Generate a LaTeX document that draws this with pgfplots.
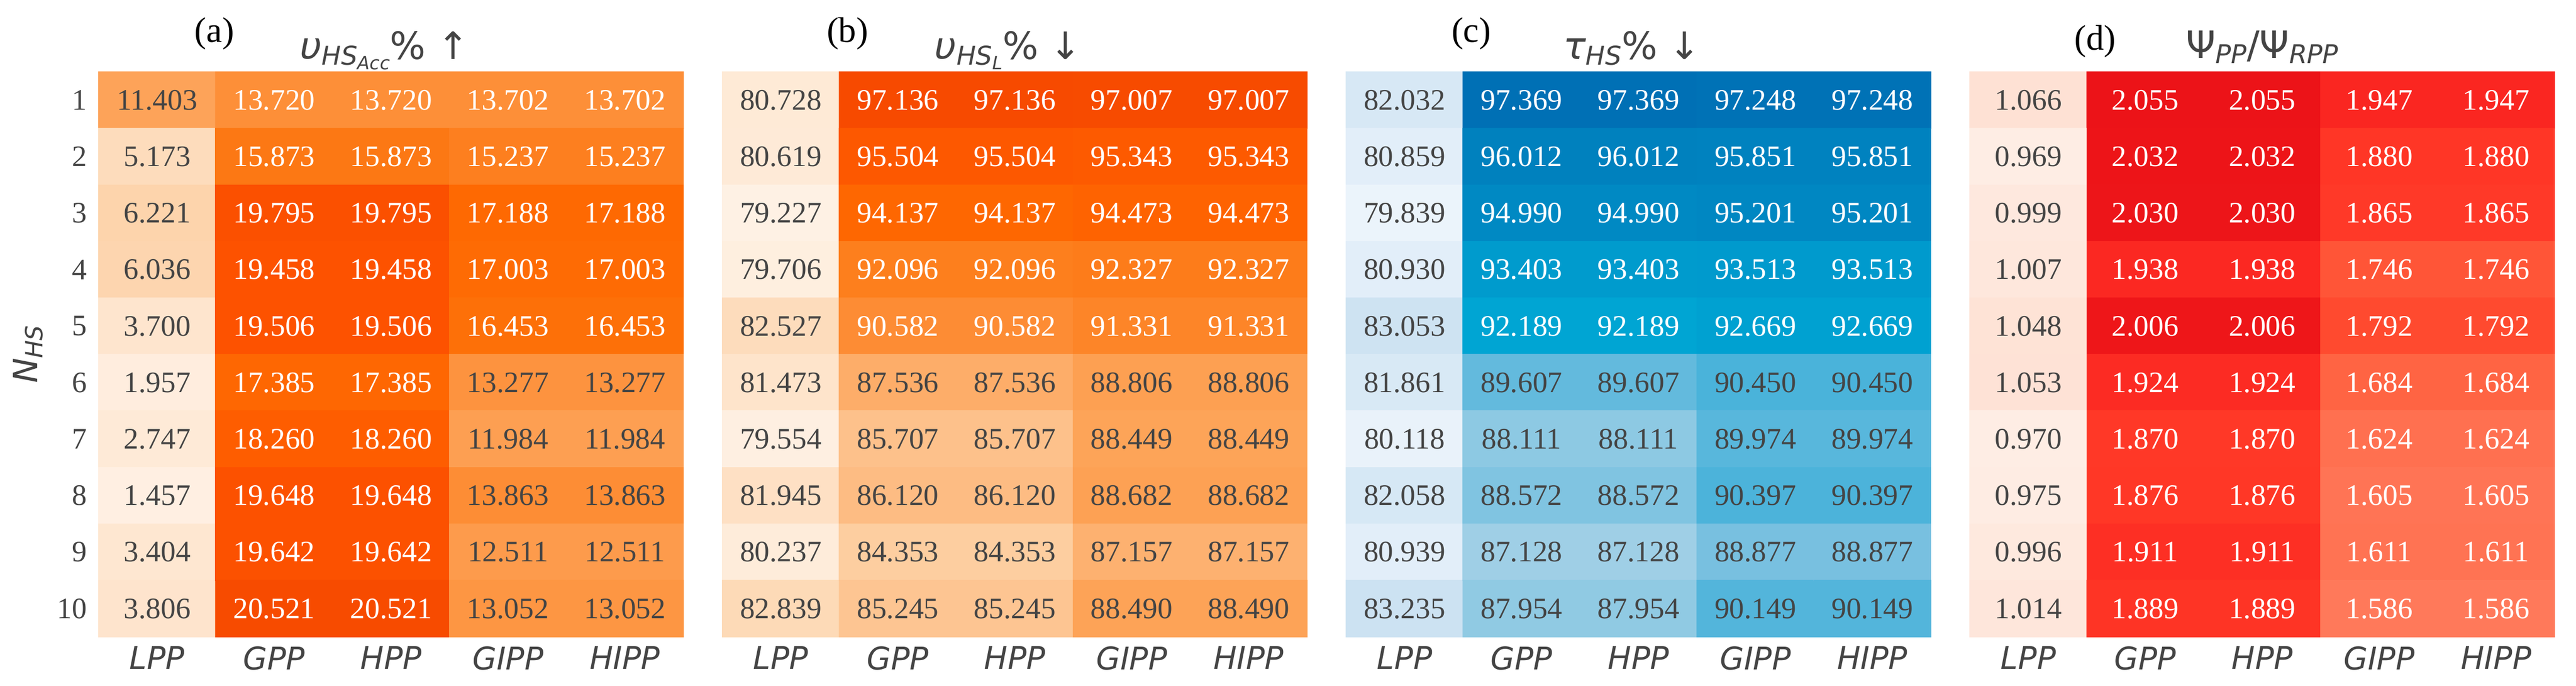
\documentclass[border=0pt]{standalone}
\usepackage{fontspec}
\setmainfont{Liberation Serif}
\newfontfamily\dv{DejaVu Sans}
\usepackage{pgfplots}
\pgfplotsset{compat=1.18}

\definecolor{cd}{HTML}{444444}
\definecolor{cw}{rgb}{1,1,1}

% subscripts in the titles (mathtext look)
\newcommand{\subA}[1]{\raisebox{-2.6pt}{\fontsize{12}{12}\selectfont #1}}
\newcommand{\subB}[1]{\raisebox{-2pt}{\fontsize{8.5}{8.5}\selectfont #1}}
\newcommand{\ttl}{\fontsize{17.5}{17.5}\selectfont\dv\color{cd}}

\pgfplotsset{
  hm/.style={
    anchor=north west, scale only axis, width=271.56pt, height=262.08pt,
    xmin=-0.5, xmax=4.5, ymin=-0.5, ymax=9.5, y dir=reverse, clip=false,
    axis line style={draw=none}, tick style={draw=none},
    xtick={0,...,4}, xticklabels={LPP,GPP,HPP,GIPP,HIPP},
    xticklabel style={font=\fontsize{14.5}{14.5}\selectfont\dv\itshape, text=cd, yshift=-1pt},
    ytick=\empty,
  },
  cells/.style={
    matrix plot*, mesh/cols=5, point meta=explicit,
    visualization depends on={value \thisrow{c}\as\tc},
    nodes near coords={\color{\tc}\pgfmathprintnumber[fixed,fixed zerofill,precision=3,assume math mode=true]{\pgfplotspointmeta}},
    nodes near coords align=center,
    every node near coord/.append style={font=\fontsize{13.8}{13.8}\selectfont, anchor=center},
  },
}

\begin{document}
\begin{tikzpicture}
\path[use as bounding box] (0,0) rectangle (1196.4pt,318.24pt);

% (a)
\begin{axis}[hm, at={(45.84pt,284.88pt)},
  colormap={ca}{rgb255(1.457pt)=(255,239,226); rgb255(2.747pt)=(254,234,215); rgb255(3.7pt)=(254,229,206);
    rgb255(5.173pt)=(253,220,188); rgb255(6.221pt)=(253,212,172); rgb255(11.403pt)=(253,163,89);
    rgb255(12.511pt)=(253,155,76); rgb255(13.7pt)=(253,143,56); rgb255(15.237pt)=(253,127,31);
    rgb255(15.873pt)=(252,120,20); rgb255(16.453pt)=(253,112,8); rgb255(17.2pt)=(254,105,2);
    rgb255(18.26pt)=(254,93,0); rgb255(19.5pt)=(253,82,0); rgb255(20.521pt)=(247,75,0)},
  point meta min=1.457, point meta max=20.521,
  ytick={0,...,9}, yticklabels={1,2,3,4,5,6,7,8,9,10},
  yticklabel style={font=\fontsize{13.8}{13.8}\selectfont, text=cd, xshift=-2pt}]
\addplot[cells] table[meta=v] {
x y v c
0 0 11.403 cd
1 0 13.720 cw
2 0 13.720 cw
3 0 13.702 cw
4 0 13.702 cw
0 1 5.173 cd
1 1 15.873 cw
2 1 15.873 cw
3 1 15.237 cw
4 1 15.237 cw
0 2 6.221 cd
1 2 19.795 cw
2 2 19.795 cw
3 2 17.188 cw
4 2 17.188 cw
0 3 6.036 cd
1 3 19.458 cw
2 3 19.458 cw
3 3 17.003 cw
4 3 17.003 cw
0 4 3.700 cd
1 4 19.506 cw
2 4 19.506 cw
3 4 16.453 cw
4 4 16.453 cw
0 5 1.957 cd
1 5 17.385 cw
2 5 17.385 cw
3 5 13.277 cd
4 5 13.277 cd
0 6 2.747 cd
1 6 18.260 cw
2 6 18.260 cw
3 6 11.984 cd
4 6 11.984 cd
0 7 1.457 cd
1 7 19.648 cw
2 7 19.648 cw
3 7 13.863 cd
4 7 13.863 cd
0 8 3.404 cd
1 8 19.642 cw
2 8 19.642 cw
3 8 12.511 cd
4 8 12.511 cd
0 9 3.806 cd
1 9 20.521 cw
2 9 20.521 cw
3 9 13.052 cd
4 9 13.052 cd
};
\node[font=\fontsize{16.5}{16.5}\selectfont] at (axis description cs:0.198,1.0678) {(a)};
\node[anchor=base] at (axis description cs:0.4885,1.022)
  {\ttl\itshape υ\subA{HS\subB{Acc}}\upshape\%\hspace{0.3em}↑};
\node[rotate=90, text=cd] at (axis description cs:-0.1211,0.5)
  {\fontsize{15.5}{15.5}\selectfont\dv\itshape N\raisebox{-2.4pt}{\fontsize{11}{11}\selectfont HS}};
\end{axis}

% (b)
\begin{axis}[hm, at={(335.52pt,284.88pt)},
  colormap={cb}{rgb255(79.227pt)=(254,241,228); rgb255(80.237pt)=(254,236,218); rgb255(80.7pt)=(254,234,214);
    rgb255(81.473pt)=(254,228,203); rgb255(82.527pt)=(253,220,188); rgb255(84.353pt)=(253,206,160);
    rgb255(85.707pt)=(253,193,139); rgb255(87.157pt)=(253,177,112); rgb255(88.6pt)=(253,162,85);
    rgb255(90.582pt)=(253,140,52); rgb255(91.331pt)=(253,133,40); rgb255(92.2pt)=(253,126,28);
    rgb255(94.137pt)=(254,103,1); rgb255(95.4pt)=(253,89,0); rgb255(97.136pt)=(247,74,0)},
  point meta min=79.227, point meta max=97.136]
\addplot[cells] table[meta=v] {
x y v c
0 0 80.728 cd
1 0 97.136 cw
2 0 97.136 cw
3 0 97.007 cw
4 0 97.007 cw
0 1 80.619 cd
1 1 95.504 cw
2 1 95.504 cw
3 1 95.343 cw
4 1 95.343 cw
0 2 79.227 cd
1 2 94.137 cw
2 2 94.137 cw
3 2 94.473 cw
4 2 94.473 cw
0 3 79.706 cd
1 3 92.096 cw
2 3 92.096 cw
3 3 92.327 cw
4 3 92.327 cw
0 4 82.527 cd
1 4 90.582 cw
2 4 90.582 cw
3 4 91.331 cw
4 4 91.331 cw
0 5 81.473 cd
1 5 87.536 cd
2 5 87.536 cd
3 5 88.806 cd
4 5 88.806 cd
0 6 79.554 cd
1 6 85.707 cd
2 6 85.707 cd
3 6 88.449 cd
4 6 88.449 cd
0 7 81.945 cd
1 7 86.120 cd
2 7 86.120 cd
3 7 88.682 cd
4 7 88.682 cd
0 8 80.237 cd
1 8 84.353 cd
2 8 84.353 cd
3 8 87.157 cd
4 8 87.157 cd
0 9 82.839 cd
1 9 85.245 cd
2 9 85.245 cd
3 9 88.490 cd
4 9 88.490 cd
};
\node[font=\fontsize{16.5}{16.5}\selectfont] at (axis description cs:0.214,1.0678) {(b)};
\node[anchor=base] at (axis description cs:0.4885,1.022)
  {\ttl\itshape υ\subA{HS\subB{L}}\upshape\%\hspace{0.3em}↓};
\end{axis}

% (c)
\begin{axis}[hm, at={(625.2pt,284.88pt)},
  colormap={cc}{rgb255(79.839pt)=(235,244,251); rgb255(80.9pt)=(226,238,249); rgb255(82pt)=(215,232,245);
    rgb255(83.235pt)=(204,226,242); rgb255(87.128pt)=(159,207,230); rgb255(88.111pt)=(141,201,227);
    rgb255(88.877pt)=(120,192,224); rgb255(89.607pt)=(99,186,221); rgb255(90.45pt)=(74,179,218);
    rgb255(92.189pt)=(0,165,211); rgb255(93.45pt)=(0,155,205); rgb255(95.1pt)=(0,136,194);
    rgb255(96.012pt)=(0,129,190); rgb255(97.369pt)=(0,112,181)},
  point meta min=79.839, point meta max=97.369]
\addplot[cells] table[meta=v] {
x y v c
0 0 82.032 cd
1 0 97.369 cw
2 0 97.369 cw
3 0 97.248 cw
4 0 97.248 cw
0 1 80.859 cd
1 1 96.012 cw
2 1 96.012 cw
3 1 95.851 cw
4 1 95.851 cw
0 2 79.839 cd
1 2 94.990 cw
2 2 94.990 cw
3 2 95.201 cw
4 2 95.201 cw
0 3 80.930 cd
1 3 93.403 cw
2 3 93.403 cw
3 3 93.513 cw
4 3 93.513 cw
0 4 83.053 cd
1 4 92.189 cw
2 4 92.189 cw
3 4 92.669 cw
4 4 92.669 cw
0 5 81.861 cd
1 5 89.607 cd
2 5 89.607 cd
3 5 90.450 cd
4 5 90.450 cd
0 6 80.118 cd
1 6 88.111 cd
2 6 88.111 cd
3 6 89.974 cd
4 6 89.974 cd
0 7 82.058 cd
1 7 88.572 cd
2 7 88.572 cd
3 7 90.397 cd
4 7 90.397 cd
0 8 80.939 cd
1 8 87.128 cd
2 8 87.128 cd
3 8 88.877 cd
4 8 88.877 cd
0 9 83.235 cd
1 9 87.954 cd
2 9 87.954 cd
3 9 90.149 cd
4 9 90.149 cd
};
\node[font=\fontsize{16.5}{16.5}\selectfont] at (axis description cs:0.214,1.0678) {(c)};
\node[anchor=base] at (axis description cs:0.4885,1.022)
  {\ttl\itshape τ\subA{HS}\upshape\%\hspace{0.3em}↓};
\end{axis}

% (d)
\begin{axis}[hm, at={(914.88pt,284.88pt)},
  colormap={cdm}{rgb255(0.969pt)=(254,237,228); rgb255(1.007pt)=(254,231,220); rgb255(1.066pt)=(254,225,212);
    rgb255(1.586pt)=(255,121,90); rgb255(1.624pt)=(255,112,80); rgb255(1.684pt)=(255,100,67);
    rgb255(1.746pt)=(255,85,55); rgb255(1.792pt)=(255,74,47); rgb255(1.88pt)=(255,54,38);
    rgb255(1.947pt)=(250,38,33); rgb255(2.006pt)=(238,22,25); rgb255(2.055pt)=(236,19,24)},
  point meta min=0.969, point meta max=2.055]
\addplot[cells] table[meta=v] {
x y v c
0 0 1.066 cd
1 0 2.055 cw
2 0 2.055 cw
3 0 1.947 cw
4 0 1.947 cw
0 1 0.969 cd
1 1 2.032 cw
2 1 2.032 cw
3 1 1.880 cw
4 1 1.880 cw
0 2 0.999 cd
1 2 2.030 cw
2 2 2.030 cw
3 2 1.865 cw
4 2 1.865 cw
0 3 1.007 cd
1 3 1.938 cw
2 3 1.938 cw
3 3 1.746 cw
4 3 1.746 cw
0 4 1.048 cd
1 4 2.006 cw
2 4 2.006 cw
3 4 1.792 cw
4 4 1.792 cw
0 5 1.053 cd
1 5 1.924 cw
2 5 1.924 cw
3 5 1.684 cw
4 5 1.684 cw
0 6 0.970 cd
1 6 1.870 cw
2 6 1.870 cw
3 6 1.624 cw
4 6 1.624 cw
0 7 0.975 cd
1 7 1.876 cw
2 7 1.876 cw
3 7 1.605 cw
4 7 1.605 cw
0 8 0.996 cd
1 8 1.911 cw
2 8 1.911 cw
3 8 1.611 cw
4 8 1.611 cw
0 9 1.014 cd
1 9 1.889 cw
2 9 1.889 cw
3 9 1.586 cw
4 9 1.586 cw
};
\node[font=\fontsize{16.5}{16.5}\selectfont] at (axis description cs:0.214,1.054) {(d)};
\node[anchor=base] at (axis description cs:0.5,1.0247)
  {\ttl Ψ\itshape\subA{PP}\upshape/Ψ\itshape\subA{RPP}};
\end{axis}
\end{tikzpicture}
\end{document}
